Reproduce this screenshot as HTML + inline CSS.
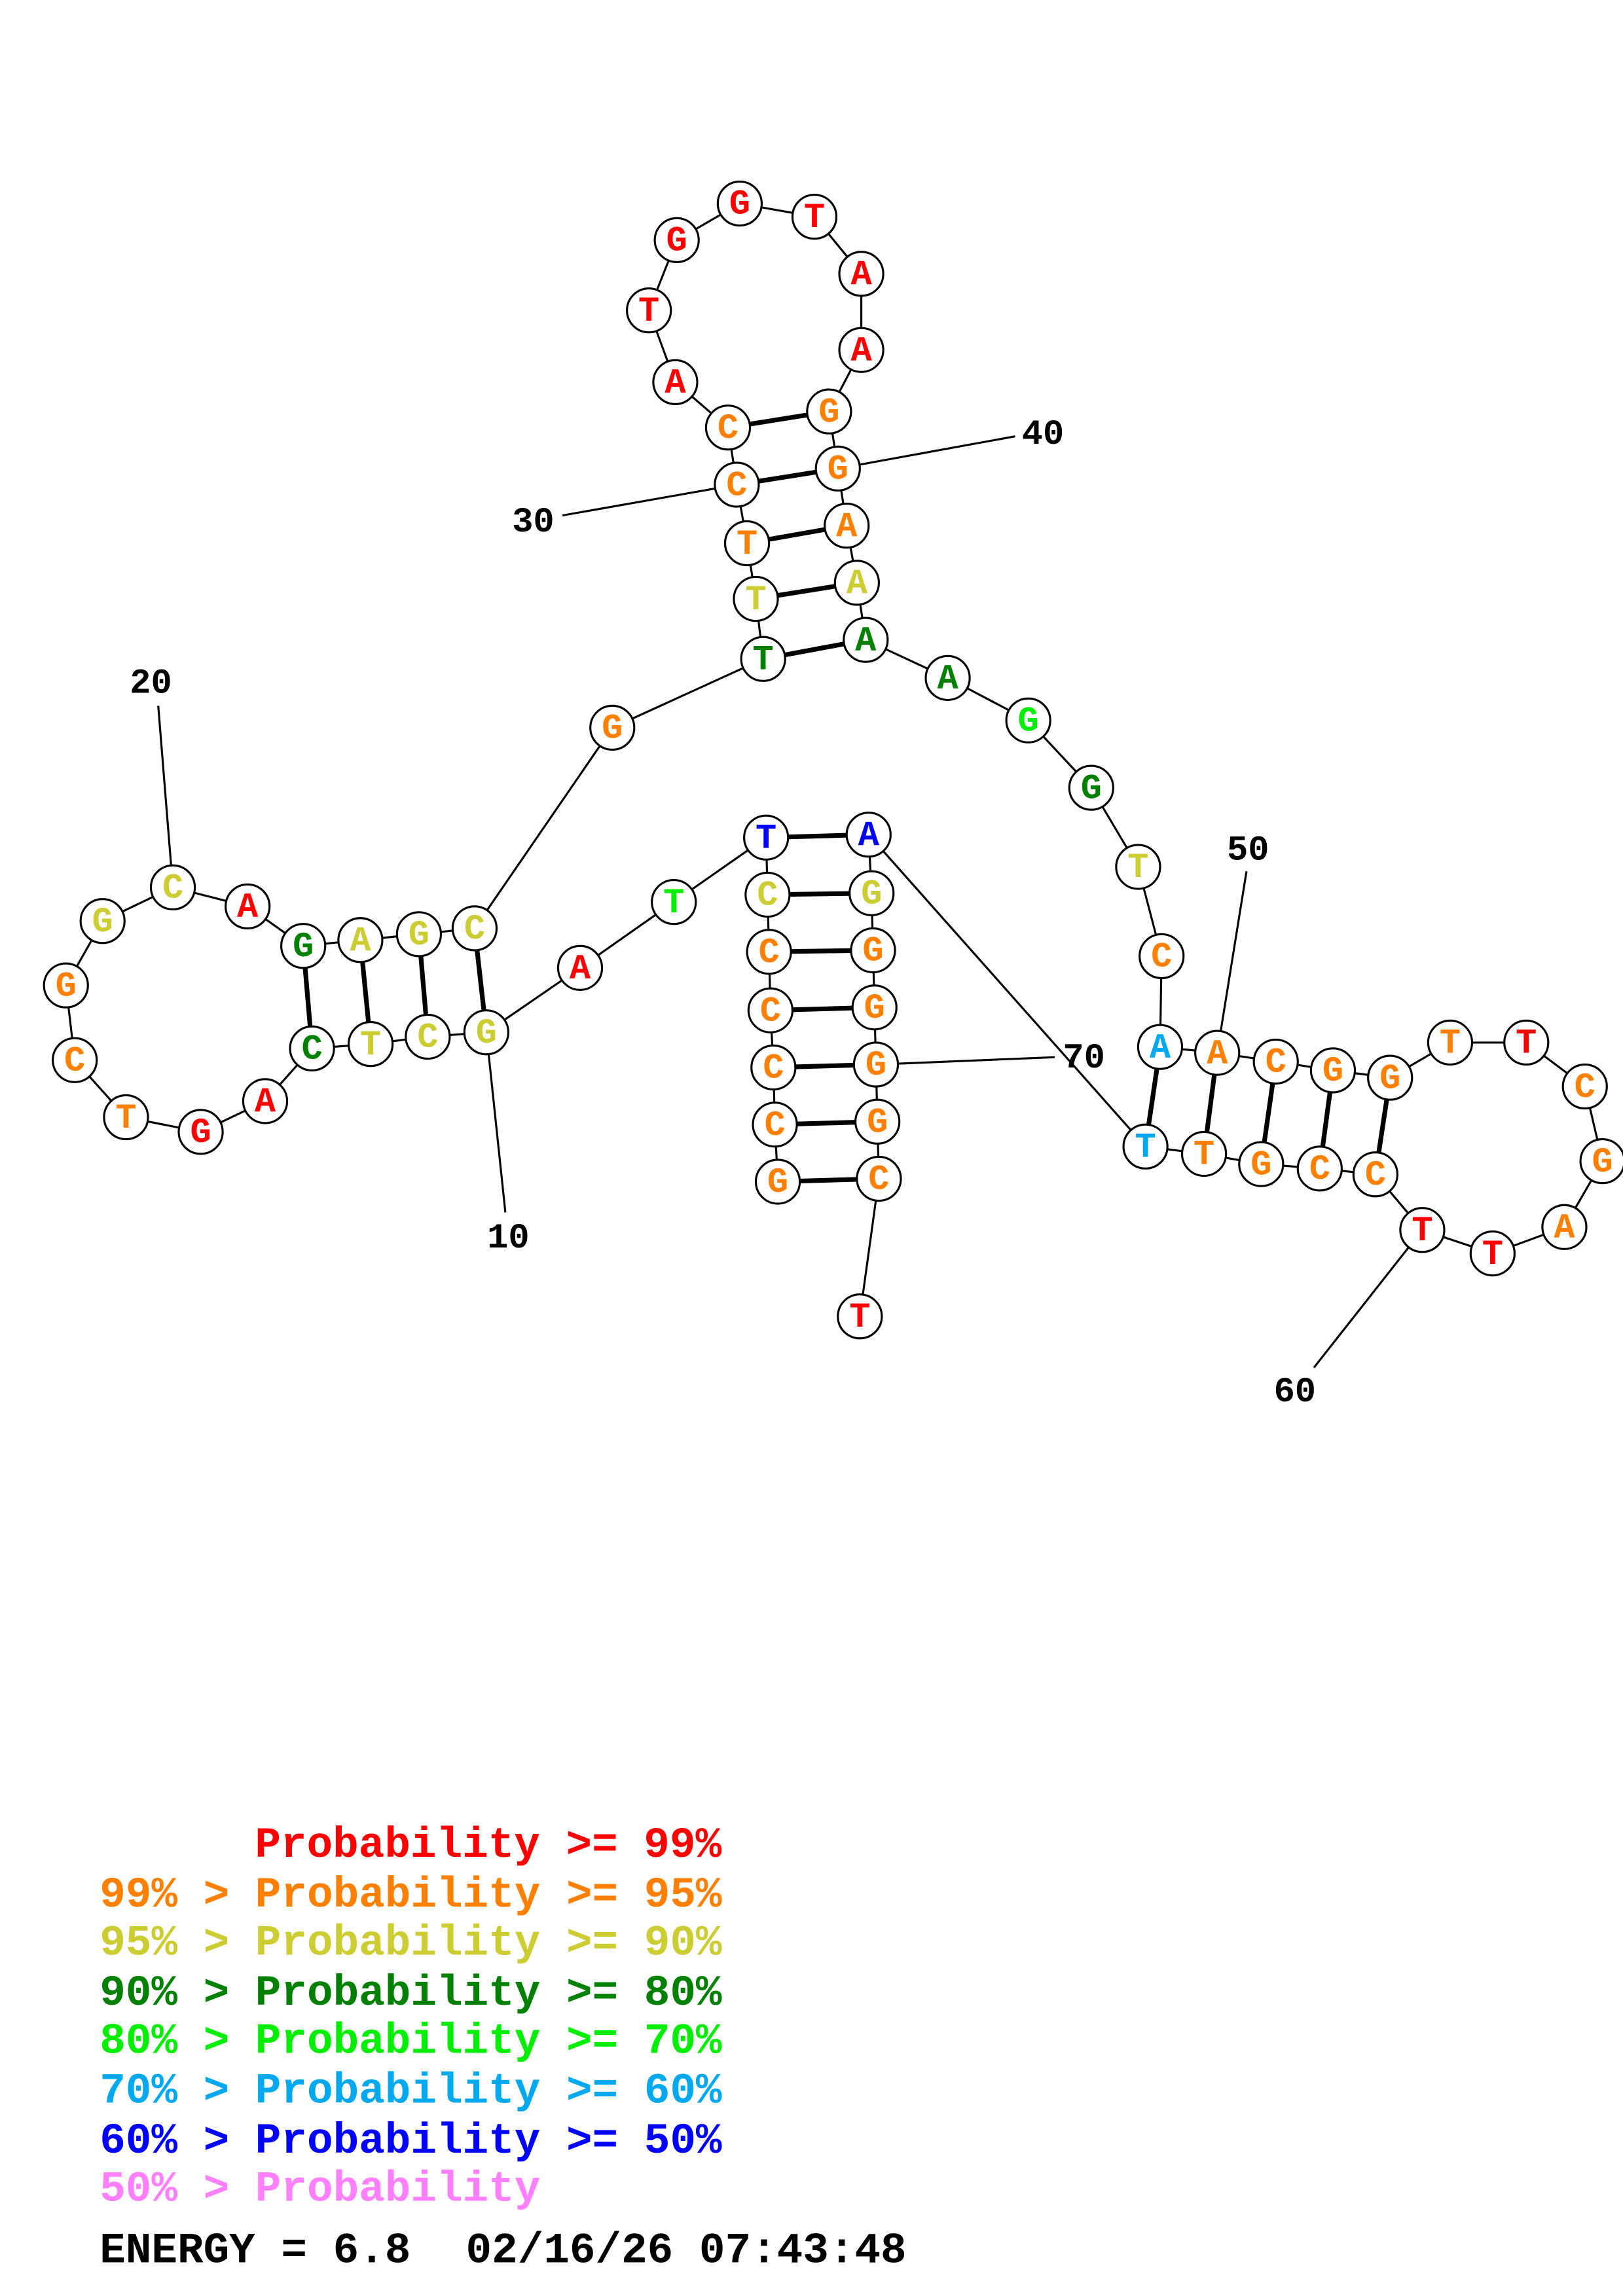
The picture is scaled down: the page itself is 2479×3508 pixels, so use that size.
<!DOCTYPE html>
<html><head><meta charset="utf-8"><style>
html,body{margin:0;padding:0;background:#fff;}
svg{display:block;}
text{white-space:pre;}
</style></head><body>
<svg width="2479" height="3508" viewBox="0 0 1108 1568" xmlns="http://www.w3.org/2000/svg">
<rect width="1108" height="1568" fill="#fff"/>
<g stroke="#000" stroke-width="1.4" fill="none">
<polyline points="531,807 529,768 528,729 526,690 525,650 524,611 523,572 460,616 396,661 332,705 292,708 253,713 213,716 181,752 137,773 86,763 51,724 45,673 70,629 118,606 169,619 207,646 246,642 286,638 324,634 418,497 521,450 516,409 510,371 503,331 497,292 461,261 443,212 462,164 505,139 556,148 588,187 588,239 566,281 572,320 578,359 585,398 591,437 647,463 702,492 745,538 777,592 793,653 792,715 831,719 871,725 910,731 949,736 990,712 1042,712 1082,742 1094,793 1068,838 1019,856 971,840 939,802 901,798 861,795 822,788 782,783 593,570 595,610 596,649 597,688 598,727 599,766 600,805 587,899"/>
<line x1="332" y1="705" x2="345" y2="828"/>
<line x1="118" y1="606" x2="108" y2="482"/>
<line x1="503" y1="331" x2="384" y2="352"/>
<line x1="572" y1="320" x2="693" y2="298"/>
<line x1="831" y1="719" x2="851" y2="595"/>
<line x1="971" y1="840" x2="897" y2="934"/>
<line x1="598" y1="727" x2="720" y2="722"/>
</g>
<g stroke="#000" stroke-width="3.2">
<line x1="531" y1="807" x2="600" y2="805"/><line x1="529" y1="768" x2="599" y2="766"/>
<line x1="528" y1="729" x2="598" y2="727"/><line x1="526" y1="690" x2="597" y2="688"/>
<line x1="525" y1="650" x2="596" y2="649"/><line x1="524" y1="611" x2="595" y2="610"/>
<line x1="523" y1="572" x2="593" y2="570"/>
<line x1="332" y1="705" x2="324" y2="634"/><line x1="292" y1="708" x2="286" y2="638"/>
<line x1="253" y1="713" x2="246" y2="642"/><line x1="213" y1="716" x2="207" y2="646"/>
<line x1="521" y1="450" x2="591" y2="437"/><line x1="516" y1="409" x2="585" y2="398"/>
<line x1="510" y1="371" x2="578" y2="359"/><line x1="503" y1="331" x2="572" y2="320"/>
<line x1="497" y1="292" x2="566" y2="281"/>
<line x1="792" y1="715" x2="782" y2="783"/><line x1="831" y1="719" x2="822" y2="788"/>
<line x1="871" y1="725" x2="861" y2="795"/><line x1="910" y1="731" x2="901" y2="798"/>
<line x1="949" y1="736" x2="939" y2="802"/>
</g>
<g fill="#fff" stroke="#000" stroke-width="1.4">
<circle cx="531" cy="807" r="15"/><circle cx="529" cy="768" r="15"/><circle cx="528" cy="729" r="15"/><circle cx="526" cy="690" r="15"/><circle cx="525" cy="650" r="15"/><circle cx="524" cy="611" r="15"/><circle cx="523" cy="572" r="15"/><circle cx="460" cy="616" r="15"/><circle cx="396" cy="661" r="15"/><circle cx="332" cy="705" r="15"/>
<circle cx="292" cy="708" r="15"/><circle cx="253" cy="713" r="15"/><circle cx="213" cy="716" r="15"/><circle cx="181" cy="752" r="15"/><circle cx="137" cy="773" r="15"/><circle cx="86" cy="763" r="15"/><circle cx="51" cy="724" r="15"/><circle cx="45" cy="673" r="15"/><circle cx="70" cy="629" r="15"/><circle cx="118" cy="606" r="15"/>
<circle cx="169" cy="619" r="15"/><circle cx="207" cy="646" r="15"/><circle cx="246" cy="642" r="15"/><circle cx="286" cy="638" r="15"/><circle cx="324" cy="634" r="15"/><circle cx="418" cy="497" r="15"/><circle cx="521" cy="450" r="15"/><circle cx="516" cy="409" r="15"/><circle cx="510" cy="371" r="15"/><circle cx="503" cy="331" r="15"/>
<circle cx="497" cy="292" r="15"/><circle cx="461" cy="261" r="15"/><circle cx="443" cy="212" r="15"/><circle cx="462" cy="164" r="15"/><circle cx="505" cy="139" r="15"/><circle cx="556" cy="148" r="15"/><circle cx="588" cy="187" r="15"/><circle cx="588" cy="239" r="15"/><circle cx="566" cy="281" r="15"/><circle cx="572" cy="320" r="15"/>
<circle cx="578" cy="359" r="15"/><circle cx="585" cy="398" r="15"/><circle cx="591" cy="437" r="15"/><circle cx="647" cy="463" r="15"/><circle cx="702" cy="492" r="15"/><circle cx="745" cy="538" r="15"/><circle cx="777" cy="592" r="15"/><circle cx="793" cy="653" r="15"/><circle cx="792" cy="715" r="15"/><circle cx="831" cy="719" r="15"/>
<circle cx="871" cy="725" r="15"/><circle cx="910" cy="731" r="15"/><circle cx="949" cy="736" r="15"/><circle cx="990" cy="712" r="15"/><circle cx="1042" cy="712" r="15"/><circle cx="1082" cy="742" r="15"/><circle cx="1094" cy="793" r="15"/><circle cx="1068" cy="838" r="15"/><circle cx="1019" cy="856" r="15"/><circle cx="971" cy="840" r="15"/>
<circle cx="939" cy="802" r="15"/><circle cx="901" cy="798" r="15"/><circle cx="861" cy="795" r="15"/><circle cx="822" cy="788" r="15"/><circle cx="782" cy="783" r="15"/><circle cx="593" cy="570" r="15"/><circle cx="595" cy="610" r="15"/><circle cx="596" cy="649" r="15"/><circle cx="597" cy="688" r="15"/><circle cx="598" cy="727" r="15"/>
<circle cx="599" cy="766" r="15"/><circle cx="600" cy="805" r="15"/><circle cx="587" cy="899" r="15"/>
</g>
<g font-family="'Liberation Mono',monospace" font-weight="bold" font-size="24" text-anchor="middle" dominant-baseline="central">
<text x="531" y="808" fill="#ff8000">G</text><text x="529" y="769" fill="#ff8000">C</text><text x="528" y="730" fill="#ff8000">C</text><text x="526" y="691" fill="#ff8000">C</text><text x="525" y="651" fill="#ff8000">C</text><text x="524" y="612" fill="#cccc33">C</text><text x="523" y="573" fill="#0000ff">T</text><text x="460" y="617" fill="#00ee00">T</text><text x="396" y="662" fill="#ff0000">A</text><text x="332" y="706" fill="#cccc33">G</text>
<text x="292" y="709" fill="#cccc33">C</text><text x="253" y="714" fill="#cccc33">T</text><text x="213" y="717" fill="#008000">C</text><text x="181" y="753" fill="#ff0000">A</text><text x="137" y="774" fill="#ff0000">G</text><text x="86" y="764" fill="#ff8000">T</text><text x="51" y="725" fill="#ff8000">C</text><text x="45" y="674" fill="#ff8000">G</text><text x="70" y="630" fill="#cccc33">G</text><text x="118" y="607" fill="#cccc33">C</text>
<text x="169" y="620" fill="#ff0000">A</text><text x="207" y="647" fill="#008000">G</text><text x="246" y="643" fill="#cccc33">A</text><text x="286" y="639" fill="#cccc33">G</text><text x="324" y="635" fill="#cccc33">C</text><text x="418" y="498" fill="#ff8000">G</text><text x="521" y="451" fill="#008000">T</text><text x="516" y="410" fill="#cccc33">T</text><text x="510" y="372" fill="#ff8000">T</text><text x="503" y="332" fill="#ff8000">C</text>
<text x="497" y="293" fill="#ff8000">C</text><text x="461" y="262" fill="#ff0000">A</text><text x="443" y="213" fill="#ff0000">T</text><text x="462" y="165" fill="#ff0000">G</text><text x="505" y="140" fill="#ff0000">G</text><text x="556" y="149" fill="#ff0000">T</text><text x="588" y="188" fill="#ff0000">A</text><text x="588" y="240" fill="#ff0000">A</text><text x="566" y="282" fill="#ff8000">G</text><text x="572" y="321" fill="#ff8000">G</text>
<text x="578" y="360" fill="#ff8000">A</text><text x="585" y="399" fill="#cccc33">A</text><text x="591" y="438" fill="#008000">A</text><text x="647" y="464" fill="#008000">A</text><text x="702" y="493" fill="#00ee00">G</text><text x="745" y="539" fill="#008000">G</text><text x="777" y="593" fill="#cccc33">T</text><text x="793" y="654" fill="#ff8000">C</text><text x="792" y="716" fill="#00a8f0">A</text><text x="831" y="720" fill="#ff8000">A</text>
<text x="871" y="726" fill="#ff8000">C</text><text x="910" y="732" fill="#ff8000">G</text><text x="949" y="737" fill="#ff8000">G</text><text x="990" y="713" fill="#ff8000">T</text><text x="1042" y="713" fill="#ff0000">T</text><text x="1082" y="743" fill="#ff8000">C</text><text x="1094" y="794" fill="#ff8000">G</text><text x="1068" y="839" fill="#ff8000">A</text><text x="1019" y="857" fill="#ff0000">T</text><text x="971" y="841" fill="#ff0000">T</text>
<text x="939" y="803" fill="#ff8000">C</text><text x="901" y="799" fill="#ff8000">C</text><text x="861" y="796" fill="#ff8000">G</text><text x="822" y="789" fill="#ff8000">T</text><text x="782" y="784" fill="#00a8f0">T</text><text x="593" y="571" fill="#0000ff">A</text><text x="595" y="611" fill="#cccc33">G</text><text x="596" y="650" fill="#ff8000">G</text><text x="597" y="689" fill="#ff8000">G</text><text x="598" y="728" fill="#ff8000">G</text>
<text x="599" y="767" fill="#ff8000">G</text><text x="600" y="806" fill="#ff8000">C</text><text x="587" y="900" fill="#ff0000">T</text>
</g>
<g font-family="'Liberation Mono',monospace" font-weight="bold" font-size="24" text-anchor="middle" dominant-baseline="central" fill="#000">
<text x="347" y="846">10</text><text x="103" y="467">20</text><text x="364" y="357">30</text><text x="712" y="297">40</text><text x="852" y="581">50</text><text x="884" y="951">60</text><text x="740" y="723">70</text>
</g>
<g font-family="'Liberation Mono',monospace" font-weight="bold" font-size="29.5">
<text x="174" y="1268" fill="#ff0000">Probability &gt;= 99%</text>
<text x="68" y="1302" fill="#ff8000">99% &gt; Probability &gt;= 95%</text>
<text x="68" y="1335" fill="#cccc33">95% &gt; Probability &gt;= 90%</text>
<text x="68" y="1369" fill="#008000">90% &gt; Probability &gt;= 80%</text>
<text x="68" y="1402" fill="#00ee00">80% &gt; Probability &gt;= 70%</text>
<text x="68" y="1436" fill="#00a8f0">70% &gt; Probability &gt;= 60%</text>
<text x="68" y="1470" fill="#0000ff">60% &gt; Probability &gt;= 50%</text>
<text x="68" y="1503" fill="#ff80ff">50% &gt; Probability</text>
<text x="68" y="1545" fill="#000">ENERGY = 6.8</text>
<text x="318" y="1545" fill="#000">02/16/26 07:43:48</text>
</g>
</svg>
</body></html>
